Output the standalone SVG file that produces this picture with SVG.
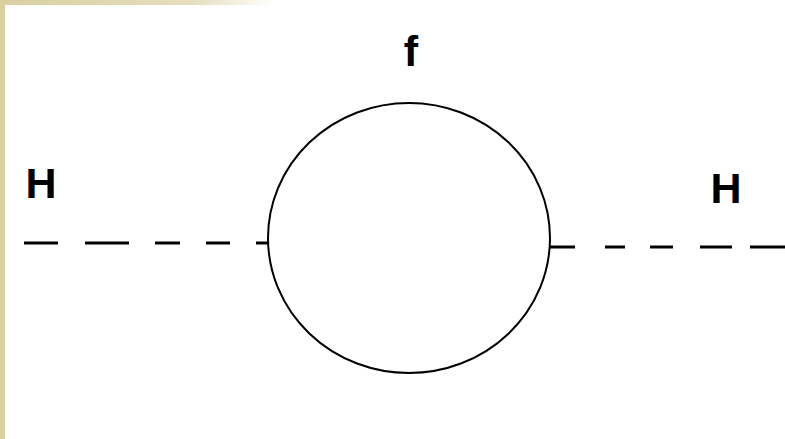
<svg xmlns="http://www.w3.org/2000/svg" width="785" height="439" viewBox="0 0 785 439">
<defs>
<linearGradient id="topg" x1="0" y1="0" x2="1" y2="0">
<stop offset="0" stop-color="#d9cf9f"/>
<stop offset="0.25" stop-color="#e6dfbf"/>
<stop offset="0.35" stop-color="#ffffff"/>
</linearGradient>
<style>
.lbl{font-family:"Liberation Sans",Arial,sans-serif;font-weight:bold;font-size:43px;fill:#000}
.dash{stroke:#000;stroke-width:3;fill:none}
.loop{stroke:#000;stroke-width:2;fill:none}
</style>
</defs>
<rect x="0" y="0" width="785" height="439" fill="#ffffff"/>
<rect x="0" y="0" width="785" height="5" fill="url(#topg)"/>
<rect x="0" y="0" width="5" height="439" fill="#d9cf9f"/>
<g id="connectors">
<g id="H-left-line">
<line class="dash" x1="24" y1="243" x2="58" y2="243"/>
<line class="dash" x1="85" y1="243" x2="129" y2="243"/>
<line class="dash" x1="155" y1="243" x2="180" y2="243"/>
<line class="dash" x1="206" y1="243" x2="230" y2="243"/>
<line class="dash" x1="256" y1="243" x2="268" y2="243"/>
</g>
<g id="H-right-line">
<line class="dash" x1="550" y1="247" x2="575" y2="247"/>
<line class="dash" x1="605" y1="247" x2="625" y2="247"/>
<line class="dash" x1="650" y1="247" x2="673" y2="247"/>
<line class="dash" x1="700" y1="247" x2="732" y2="247"/>
<line class="dash" x1="750" y1="247" x2="785" y2="247"/>
</g>
</g>
<g id="loop">
<ellipse class="loop" cx="409" cy="238" rx="141" ry="135"/>
<text class="lbl" x="411" y="66" text-anchor="middle">f</text>
</g>
<g id="H-left">
<text class="lbl" x="41" y="198" text-anchor="middle">H</text>
</g>
<g id="H-right">
<text class="lbl" x="726" y="203" text-anchor="middle">H</text>
</g>
</svg>
